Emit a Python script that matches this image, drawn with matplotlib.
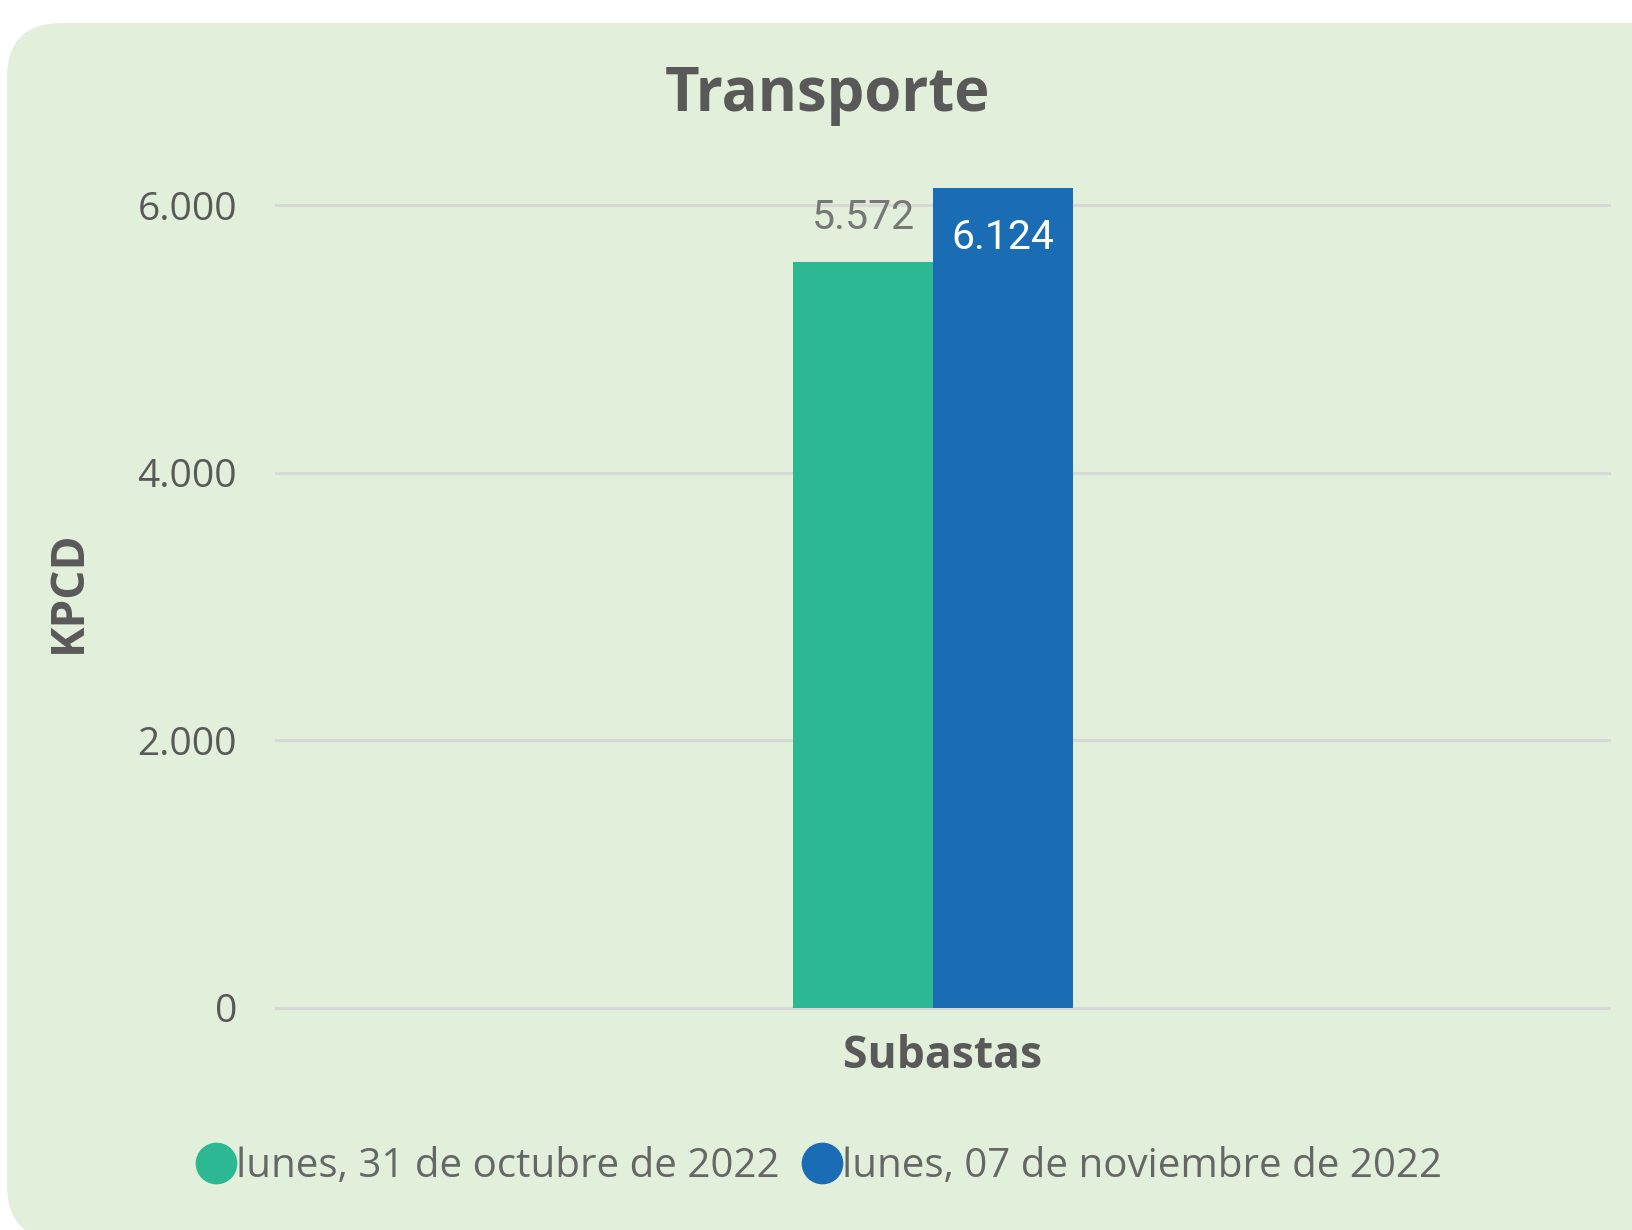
import matplotlib
matplotlib.use("Agg")
import matplotlib.pyplot as plt
from matplotlib.patches import FancyBboxPatch
from matplotlib.lines import Line2D
from matplotlib.ticker import FuncFormatter

# ---- data ----
categories = ["Subastas"]
series_names = ["lunes, 31 de octubre de 2022", "lunes, 07 de noviembre de 2022"]
values_oct31 = [5572]
values_nov07 = [6124]
yticks = [0, 2000, 4000, 6000]
title = "Transporte"
ylabel = "KPCD"

colors = ["#2BB893", "#1A6DB5"]
text_dark = "#595959"
text_mid = "#666666"

W, H, DPI = 1633, 1230, 100
fig = plt.figure(figsize=(W / DPI, H / DPI), dpi=DPI)
fig.patch.set_facecolor("white")

# rounded background panel
x0, y0, x1, y1 = 7, 23, W + 80, 1240
panel = FancyBboxPatch((x0, H - y1), x1 - x0, y1 - y0,
                       boxstyle="round,pad=0,rounding_size=55",
                       transform=None, facecolor="#E2EFDA",
                       edgecolor="none", zorder=-5)
fig.patches.append(panel)

def fmt(v, pos=None):
    return f"{int(v):,}".replace(",", ".")

ax = fig.add_axes([276 / W, 1 - 1008 / H, (1609 - 276) / W, 856.5 / H])
ax.set_facecolor("none")
ax.set_ylim(0, 6400)
ax.set_xlim(-0.5, 0.5)
ax.set_yticks(yticks)
ax.yaxis.set_major_formatter(FuncFormatter(fmt))
for s in ax.spines.values():
    s.set_visible(False)
ax.tick_params(axis="both", length=0)
ax.tick_params(axis="y", labelsize=28, labelcolor=text_dark, pad=28)
for lab in ax.get_yticklabels():
    lab.set_family("Open Sans")
ax.grid(axis="y", color="#D8D8D8", linewidth=2.2, zorder=0)
ax.set_axisbelow(True)
for gl in ax.get_ygridlines():
    gl.set_clip_on(False)

bw = 0.105
shift = -0.007
x = list(range(len(categories)))
b1 = ax.bar([xi + shift - bw / 2 for xi in x], values_oct31, width=bw, color=colors[0], zorder=2)
b2 = ax.bar([xi + shift + bw / 2 for xi in x], values_nov07, width=bw, color=colors[1], zorder=2)

ax.set_xticks(x)
ax.set_xticklabels(categories, fontsize=32, fontweight="bold", color=text_dark, family="Open Sans")
ax.tick_params(axis="x", pad=19)

for rect, v in zip(b1, values_oct31):
    ax.annotate(fmt(v), (rect.get_x() + rect.get_width() / 2, v), xytext=(0, 18),
                textcoords="offset points", ha="center", va="bottom",
                fontsize=29.5, color="#777777", family="Roboto")
for rect, v in zip(b2, values_nov07):
    ax.annotate(fmt(v), (rect.get_x() + rect.get_width() / 2, v), xytext=(0, -21),
                textcoords="offset points", ha="center", va="top",
                fontsize=29.5, color="white", family="Roboto")

fig.text(68 / W, 1 - 592 / H, ylabel, rotation=90, ha="center", va="center",
         fontsize=33, fontweight="bold", color=text_dark, family="Open Sans")
fig.text(828 / W, 1 - 95 / H, title, ha="center", va="center",
         fontsize=43, fontweight="bold", color=text_dark, family="Open Sans")

handles = [Line2D([], [], marker="o", linestyle="none", markersize=29,
                  markerfacecolor=c, markeredgecolor=c) for c in colors]
leg = fig.legend(handles, series_names, loc="center", bbox_to_anchor=(819 / W, 1 - 1167 / H),
                 ncol=2, frameon=False, handletextpad=0.0, columnspacing=0.55,
                 handlelength=1.0, prop={"family": "Open Sans", "size": 29})
for t in leg.get_texts():
    t.set_color(text_mid)

fig.savefig("out.png", dpi=DPI, facecolor=fig.get_facecolor())
